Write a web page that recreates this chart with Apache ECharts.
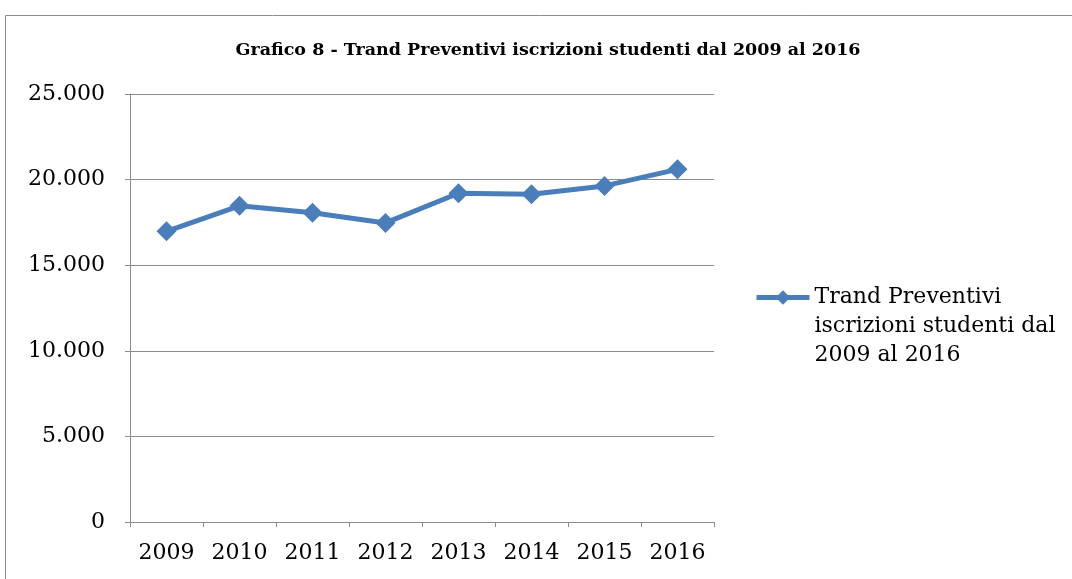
<!DOCTYPE html>
<html>
<head>
<meta charset="utf-8">
<script src="https://cdn.jsdelivr.net/npm/echarts@6/dist/echarts.min.js"></script>
<style>
  html, body { margin: 0; padding: 0; background: #fff; }
  #chart { width: 1072px; height: 579px; }
</style>
</head>
<body>
<div id="chart"></div>
<script>
// anni e valori
var years = ['2009', '2010', '2011', '2012', '2013', '2014', '2015', '2016']
var iscrizioni = [16980, 18470, 18060, 17470, 19200, 19140, 19630, 20600]
var seriesName = 'Trand Preventivi\niscrizioni studenti dal\n2009 al 2016'

var chart = echarts.init(document.getElementById('chart'))
var serif = '"DejaVu Serif", "Liberation Serif", serif'

chart.setOption({
  animation: false,
  title: {
    text: 'Grafico 8 - Trand Preventivi iscrizioni studenti dal 2009 al 2016',
    left: 543,
    textAlign: 'center',
    top: 36,
    textStyle: { fontFamily: serif, fontWeight: 'bold', fontSize: 17.5, color: '#000' }
  },
  // cornice esterna
  graphic: [{
    type: 'rect',
    shape: { x: 5.5, y: 15.5, width: 1080, height: 600 },
    style: { fill: 'none', stroke: '#8c8c8c', lineWidth: 1 },
    silent: true
  }],
  legend: {
    orient: 'vertical',
    left: 749,
    top: 220,
    itemWidth: 53,
    itemHeight: 18,
    itemGap: 0,
    lineStyle: { width: 5 },
    // due righe vuote davanti: così la prima riga resta all'altezza del simbolo
    formatter: function(name) { return '\n\n' + name },
    textStyle: { fontFamily: serif, fontSize: 22, color: '#000', lineHeight: 29 },
    data: [seriesName]
  },
  grid: { left: 130, right: 358, top: 94, bottom: 57 },
  xAxis: {
    type: 'category',
    data: years,
    boundaryGap: true,
    axisLine: { lineStyle: { color: '#8c8c8c', width: 1 } },
    axisTick: { show: true, length: 5, lineStyle: { color: '#8c8c8c' } },
    axisLabel: { fontFamily: serif, fontSize: 22, color: '#000', margin: 20 }
  },
  yAxis: {
    type: 'value',
    min: 0,
    max: 25000,
    interval: 5000,
    axisLine: { show: true, lineStyle: { color: '#8c8c8c', width: 1 } },
    axisTick: { show: true, length: 5, lineStyle: { color: '#8c8c8c' } },
    splitLine: { lineStyle: { color: '#8c8c8c', width: 1 } },
    axisLabel: {
      fontFamily: serif,
      fontSize: 22,
      color: '#000',
      margin: 25,
      formatter: function(v) {
        return v === 0 ? '0' : String(v).replace(/\B(?=(\d{3})+(?!\d))/g, '.')
      }
    }
  },
  series: [{
    name: seriesName,
    type: 'line',
    data: iscrizioni,
    symbol: 'diamond',
    symbolSize: 20,
    lineStyle: { color: '#4a7ebb', width: 5 },
    itemStyle: { color: '#4a7ebb' }
  }]
})
</script>
</body>
</html>
